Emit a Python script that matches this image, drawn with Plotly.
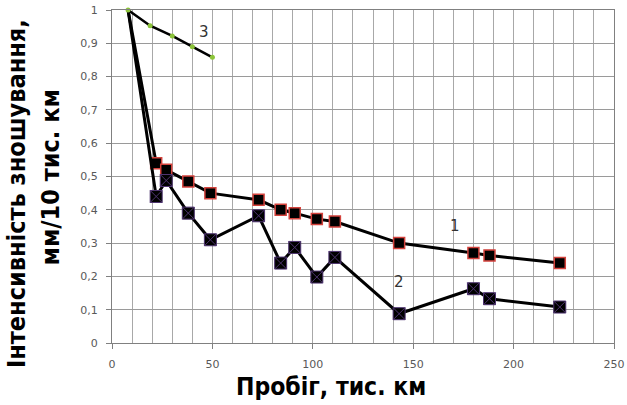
import plotly.graph_objects as go

# Mileage (thousand km) and wear intensity (mm per 10 thousand km)
run_1 = [8, 22, 27, 38, 49, 73, 84, 91, 102, 111, 143, 180, 188, 223]
wear_1 = [1.0, 0.54, 0.52, 0.485, 0.45, 0.43, 0.40, 0.39, 0.372, 0.365, 0.30, 0.27, 0.263, 0.24]

run_2 = [8, 22, 27, 38, 49, 73, 84, 91, 102, 111, 143, 180, 188, 223]
wear_2 = [1.0, 0.44, 0.488, 0.39, 0.31, 0.382, 0.24, 0.287, 0.198, 0.257, 0.088, 0.163, 0.133, 0.108]

run_3 = [8, 19, 30, 40, 50]
wear_3 = [1.0, 0.953, 0.922, 0.89, 0.858]

curve_labels = ["1", "2", "3"]
curve_label_pos = [(171, 0.35), (143, 0.182), (46, 0.935)]

x_grid = list(range(0, 251, 10))
x_labels = [str(v) if v % 50 == 0 else "" for v in x_grid]

x_title = "Пробіг, тис. км"
y_title_lines = ["Інтенсивність зношування,", "мм/10 тис. км"]

fig = go.Figure()

fig.add_trace(go.Scatter(
    x=run_1, y=wear_1, mode="lines+markers",
    line=dict(color="black", width=3),
    marker=dict(symbol="square", color="black", opacity=1,
                size=[0] + [11] * (len(run_1) - 1),
                line=dict(color="#d4423c", width=1.5)),
    showlegend=False, cliponaxis=False,
))

fig.add_trace(go.Scatter(
    x=run_2, y=wear_2, mode="lines+markers",
    line=dict(color="black", width=3),
    marker=dict(symbol="square-x", color="black", opacity=1,
                size=[0] + [12] * (len(run_2) - 1),
                line=dict(color="#4e3470", width=1)),
    showlegend=False, cliponaxis=False,
))

fig.add_trace(go.Scatter(
    x=run_3, y=wear_3, mode="lines+markers",
    line=dict(color="black", width=2.5),
    marker=dict(symbol="circle", color="#8cc43a", size=5,
                line=dict(width=0)),
    showlegend=False, cliponaxis=False,
))

for txt, (lx, ly) in zip(curve_labels, curve_label_pos):
    fig.add_annotation(x=lx, y=ly, text=txt, showarrow=False,
                       font=dict(family="DejaVu Sans", size=15, color="#333333"))

title_family = "DejaVu Sans Condensed, DejaVu Sans"

fig.add_annotation(xref="paper", yref="paper", x=0.436, y=-0.13,
                   xanchor="center", yanchor="middle",
                   text="<b>%s</b>" % x_title, showarrow=False,
                   font=dict(family=title_family, size=24.5, color="black"))
fig.add_annotation(xref="paper", yref="paper", x=-0.19, y=0.449,
                   xanchor="center", yanchor="middle", textangle=-90,
                   text="<b>%s</b>" % y_title_lines[0], showarrow=False,
                   font=dict(family=title_family, size=25, color="black"))
fig.add_annotation(xref="paper", yref="paper", x=-0.123, y=0.498,
                   xanchor="center", yanchor="middle", textangle=-90,
                   text="<b>%s</b>" % y_title_lines[1], showarrow=False,
                   font=dict(family=title_family, size=25, color="black"))

fig.update_layout(
    width=627, height=405,
    margin=dict(l=112, r=13, t=10, b=62, autoexpand=False),
    paper_bgcolor="white", plot_bgcolor="white",
    separators=", ",
    font=dict(family="DejaVu Sans", size=11, color="#595959"),
)

# grid every 10 thousand km, labels and tick marks every 50
fig.update_xaxes(
    range=[0, 250], tickmode="array", tickvals=x_grid, ticktext=x_labels,
    ticks="", ticklabelstandoff=11,
    showline=True, linecolor="#808080", linewidth=1,
    mirror=True, showgrid=True, gridcolor="#a8a8a8", gridwidth=1,
    minor=dict(tick0=0, dtick=50, ticks="outside", ticklen=5,
               tickcolor="#808080", showgrid=True, gridcolor="#8a8a8a"),
    zeroline=False, automargin=False,
)
fig.update_yaxes(
    range=[0, 1], tickmode="linear", tick0=0, dtick=0.1,
    ticks="outside", ticklen=5, ticklabelstandoff=6,
    tickcolor="#808080", showline=True, linecolor="#808080", linewidth=1,
    mirror=True, showgrid=True, gridcolor="#9a9a9a", gridwidth=1,
    zeroline=False, automargin=False,
)

fig.write_html("out.html")
